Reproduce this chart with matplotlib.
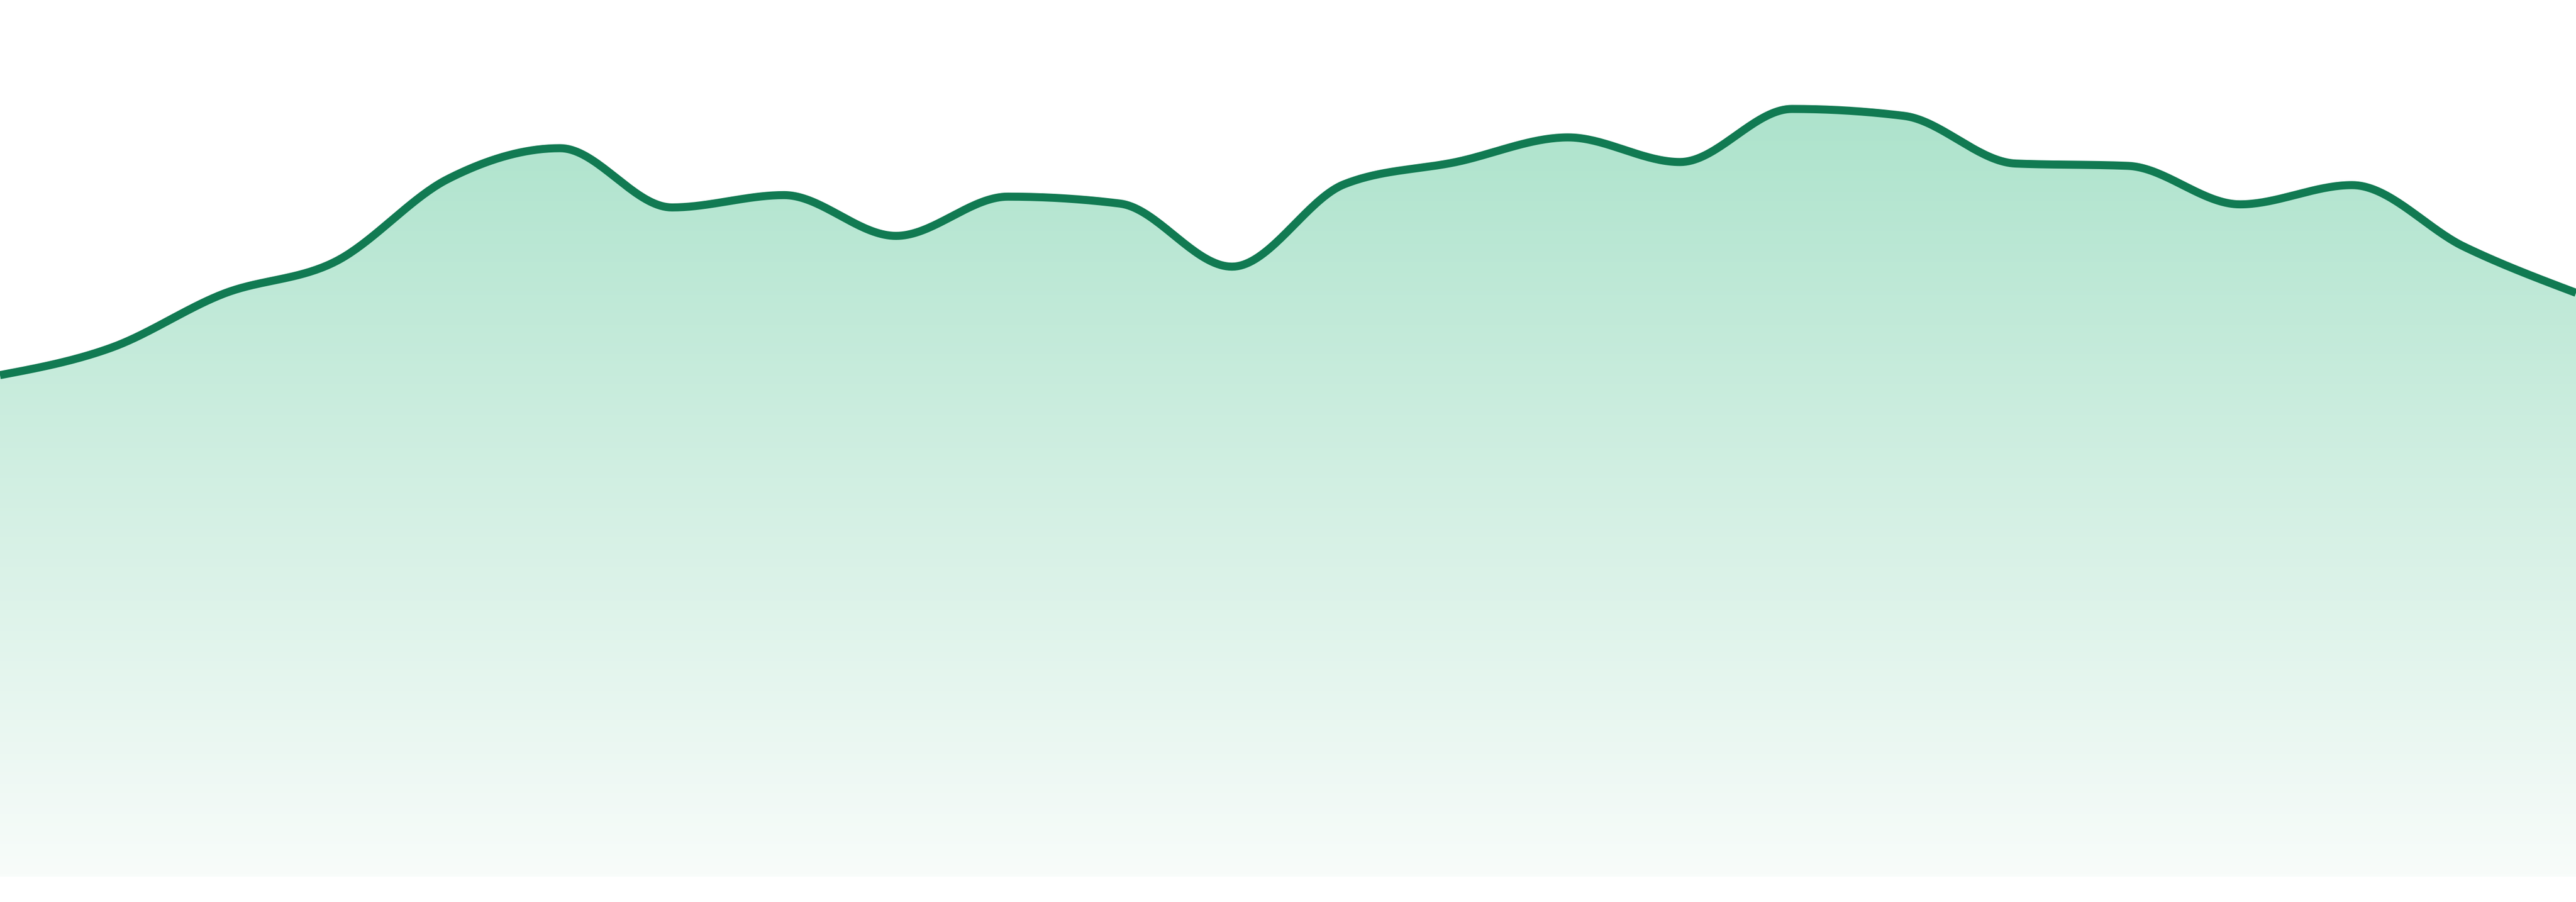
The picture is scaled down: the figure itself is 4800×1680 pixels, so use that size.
import matplotlib.pyplot as plt
import numpy as np
from matplotlib.colors import LinearSegmentedColormap

# one value per step
steps = list(range(24))
values = [65.2, 68.8, 75.8, 80.0, 90.7, 94.7, 87.0, 88.6, 83.3, 88.4, 87.5, 79.3,
          90.0, 92.9, 96.1, 92.9, 99.8, 98.9, 92.7, 92.4, 87.4, 89.9, 81.9, 75.9]

line_color = '#117a52'
fill_top = (173 / 255, 227 / 255, 204 / 255)
fill_bottom = (248 / 255, 252 / 255, 250 / 255)


def monotone_x(x, y, n=40):
    # same as d3.curveMonotoneX
    x = np.asarray(x, float)
    y = np.asarray(y, float)
    h = np.diff(x)
    s = np.diff(y) / h
    t = np.zeros(len(x))
    for i in range(1, len(x) - 1):
        p = (s[i - 1] * h[i] + s[i] * h[i - 1]) / (h[i - 1] + h[i])
        sg = (1 if s[i - 1] >= 0 else -1) + (1 if s[i] >= 0 else -1)
        t[i] = sg * min(abs(s[i - 1]), abs(s[i]), 0.5 * abs(p))
    t[0] = (3 * s[0] - t[1]) / 2
    t[-1] = (3 * s[-1] - t[-2]) / 2
    xs, ys = [], []
    u = np.linspace(0, 1, n)
    for i in range(len(x) - 1):
        dx = h[i] / 3
        px = [x[i], x[i] + dx, x[i + 1] - dx, x[i + 1]]
        py = [y[i], y[i] + dx * t[i], y[i + 1] - dx * t[i + 1], y[i + 1]]
        b = [(1 - u) ** 3, 3 * u * (1 - u) ** 2, 3 * u ** 2 * (1 - u), u ** 3]
        xs.append(sum(bb * pp for bb, pp in zip(b, px)))
        ys.append(sum(bb * pp for bb, pp in zip(b, py)))
    return np.concatenate(xs), np.concatenate(ys)


cx, cy = monotone_x(steps, values)

fig = plt.figure(figsize=(48, 16.8), dpi=100)
ax = fig.add_axes([0, 0, 1, 1])
ax.set_xlim(0, 23)
ax.set_ylim(-3.28, 113.96)
ax.axis('off')

# gradient fill under the curve
cmap = LinearSegmentedColormap.from_list('g', [fill_bottom, fill_top])
grad = np.linspace(0, 1, 256).reshape(-1, 1)
top = max(values)
img = ax.imshow(grad, cmap=cmap, aspect='auto', origin='lower',
                extent=(0, 23, 0, top), zorder=1)
poly = ax.fill_between(cx, 0, cy, color='none', lw=0)
clip = poly.get_paths()[0]
img.set_clip_path(clip, transform=ax.transData)

ax.plot(cx, cy, color=line_color, lw=10.8, solid_capstyle='butt', zorder=3)

fig.savefig('out.png', dpi=100, facecolor='white')
